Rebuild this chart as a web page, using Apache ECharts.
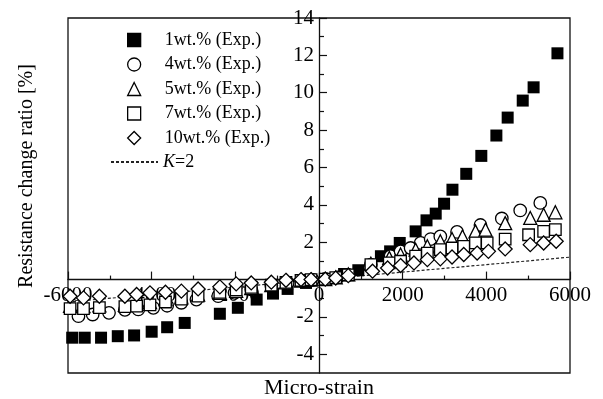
<!DOCTYPE html>
<html><head><meta charset="utf-8">
<script src="https://cdn.jsdelivr.net/npm/echarts@6/dist/echarts.min.js"></script>
<style>html,body{margin:0;padding:0;background:#fff}#c{width:603px;height:399px}</style>
</head><body><div id="c"></div>
<script>
const FONT = "'Liberation Serif','Times New Roman',serif";

// Tick values
const yLabelValues = [-4, -2, 2, 4, 6, 8, 10, 12, 14];
const yMajorTicks = [-4, -2, 0, 2, 4, 6, 8, 10, 12, 14];
const yMinorTicks = [-3, -1, 1, 3, 5, 7, 9, 11, 13];

// 1wt.% (Exp.)
const s1x = [-5900,-5600,-5210,-4810,-4420,-4000,-3630,-3210,-2370,-1940,-1490,-1100,-750,-310,600,940,1480,1700,1930,2310,2570,2790,2990,3190,3520,3880,4240,4510,4870,5130,5700];
const s1y = [-3.11,-3.11,-3.11,-3.03,-2.99,-2.79,-2.55,-2.32,-1.83,-1.51,-1.07,-0.75,-0.50,-0.18,0.30,0.50,1.25,1.51,1.96,2.58,3.17,3.53,4.06,4.81,5.66,6.62,7.71,8.67,9.58,10.29,12.11];
// 4wt.% (Exp.)
const s4x = [-5750,-5410,-5020,-4640,-4320,-3960,-3630,-3290,-2930,-2410,-2020,-1620,-1140,-750,-400,-150,150,450,700,1240,1710,1950,2190,2430,2670,2900,3300,3860,4370,4810,5290];
const s4y = [-1.96,-1.87,-1.78,-1.62,-1.60,-1.51,-1.40,-1.24,-1.07,-0.89,-0.71,-0.53,-0.32,-0.18,-0.08,-0.02,0.03,0.12,0.25,0.80,1.25,1.51,1.69,1.96,2.17,2.31,2.55,2.92,3.27,3.70,4.10];
// 5wt.% (Exp.)
const s5x = [-5950,-5630,-5250,-4640,-4360,-4040,-3670,-3290,-2890,-2370,-1980,-1620,-1140,-790,-430,-190,150,400,700,1240,1680,1950,2310,2590,2900,3180,3430,3740,3980,4450,5050,5370,5650];
const s5y = [-1.40,-1.42,-1.38,-1.35,-1.30,-1.20,-1.05,-0.95,-0.80,-0.71,-0.60,-0.45,-0.30,-0.15,-0.05,0.00,0.03,0.12,0.28,0.85,1.16,1.34,1.60,1.78,2.05,2.17,2.31,2.58,2.67,3.02,3.30,3.47,3.60];
// 7wt.% (Exp.)
const s7x = [-5950,-5630,-5250,-4640,-4360,-4040,-3670,-3290,-2890,-2370,-1980,-1620,-1140,-790,-430,-190,150,400,700,1240,1680,1950,2310,2590,2900,3180,3460,3740,4020,4450,5010,5370,5650];
const s7y = [-1.55,-1.55,-1.50,-1.45,-1.42,-1.35,-1.20,-1.05,-0.89,-0.68,-0.55,-0.42,-0.30,-0.15,-0.05,0.00,0.02,0.10,0.25,0.80,0.89,0.98,1.25,1.42,1.60,1.69,1.78,1.96,1.96,2.17,2.40,2.58,2.67];
// 10wt.% (Exp.)
const s10x = [-5950,-5630,-5250,-4640,-4360,-4040,-3670,-3290,-2890,-2370,-1980,-1620,-1140,-790,-430,-190,150,400,700,1280,1640,1950,2270,2590,2900,3180,3460,3780,4050,4450,5050,5370,5670];
const s10y = [-0.89,-0.98,-0.89,-0.89,-0.80,-0.71,-0.68,-0.62,-0.50,-0.39,-0.23,-0.18,-0.14,-0.04,0.00,0.00,0.02,0.08,0.21,0.45,0.62,0.75,0.89,1.07,1.11,1.21,1.34,1.42,1.51,1.64,1.87,1.96,2.05];
// K=2 reference line
const k2x = [-6000, 6000];
const k2y = [-1.2, 1.2];

const expNames = ['1wt.% (Exp.)','4wt.% (Exp.)','5wt.% (Exp.)','7wt.% (Exp.)','10wt.% (Exp.)'];
const lineName = 'K=2';

function pts(xs, ys) { return xs.map((x, i) => [x, ys[i]]); }

const W = 603, H = 399;
const G = { left: 68, right: 33, top: 18, bottom: 26 };
const openStyle = { color: '#fff', borderColor: '#000', borderWidth: 1.3, opacity: 1 };
const axisColor = '#111';
const txt = { fontFamily: FONT, fontSize: 18, color: '#000', lineHeight: 20 };

const chart = echarts.init(document.getElementById('c'), null, { renderer: 'canvas' });

function buildOption(xOff, yOff) {
  return {
    animation: false,
    grid: { left: G.left, right: G.right, top: G.top, bottom: G.bottom, show: true, borderColor: axisColor, borderWidth: 1.3 },
    xAxis: {
      type: 'value', min: -6000, max: 6000, interval: 2000, position: 'bottom', offset: xOff,
      axisLine: { onZero: false, lineStyle: { color: axisColor, width: 1.3 } },
      axisTick: { inside: true, length: 8, lineStyle: { color: axisColor, width: 1.2 } },
      minorTick: { show: true, splitNumber: 2, length: 4, lineStyle: { color: axisColor, width: 1.2 } },
      splitLine: { show: false },
      axisLabel: { fontFamily: FONT, fontSize: 21, color: '#000', margin: 5, showMinLabel: true, showMaxLabel: true, hideOverlap: false,
        formatter: v => String(v) }
    },
    yAxis: [
      {
        type: 'value', min: -5, max: 14, position: 'left', offset: yOff,
        axisLine: { onZero: false, lineStyle: { color: axisColor, width: 1.3 } },
        axisTick: { inside: true, length: 8, customValues: yMajorTicks, lineStyle: { color: axisColor, width: 1.2 } },
        axisLabel: { customValues: yLabelValues, fontFamily: FONT, fontSize: 21, color: '#000', margin: 5, hideOverlap: false,
          formatter: v => String(v) },
        splitLine: { show: false }
      },
      {
        type: 'value', min: -5, max: 14, position: 'left', offset: yOff,
        axisLine: { show: false, onZero: false },
        axisTick: { inside: true, length: 5, customValues: yMinorTicks, lineStyle: { color: axisColor, width: 1.2 } },
        axisLabel: { show: false },
        splitLine: { show: false }
      }
    ],
    legend: [
      {
        left: 127, top: 30, orient: 'vertical', padding: 0,
        itemWidth: 13, itemHeight: 13, itemGap: 4.5, selectedMode: false,
        data: expNames,
        itemStyle: { borderWidth: 1.3, opacity: 1 },
        formatter: n => '{s|}' + n,
        textStyle: Object.assign({}, txt, { rich: { s: { width: 19, height: 20 } } })
      },
      {
        left: 110, top: 152, orient: 'vertical', padding: 0,
        itemWidth: 47, itemHeight: 13, selectedMode: false,
        data: [lineName],
        itemStyle: { color: 'rgba(0,0,0,0)', borderWidth: 0, opacity: 0 },
        formatter: () => '{i|K}{n|=2}',
        textStyle: Object.assign({}, txt, {
          rich: {
            i: Object.assign({}, txt, { fontStyle: 'italic' }),
            n: Object.assign({}, txt)
          }
        })
      }
    ],
    graphic: [
      { type: 'text', x: 27, y: 176, rotation: Math.PI / 2,
        style: { text: 'Resistance change ratio [%]', font: "20px 'Liberation Serif','Times New Roman',serif", fill: '#000', textAlign: 'center', textVerticalAlign: 'middle' } },
      { type: 'text', x: 319, y: 388,
        style: { text: 'Micro-strain', font: "22px 'Liberation Serif','Times New Roman',serif", fill: '#000', textAlign: 'center', textVerticalAlign: 'middle' } }
    ],
    series: [
      { name: lineName, type: 'line', data: pts(k2x, k2y), symbol: 'none', z: 1,
        itemStyle: { color: '#333' },
        lineStyle: { color: '#222', width: 1.2, type: [3, 2] } },
      { name: expNames[0], type: 'scatter', data: pts(s1x, s1y), symbol: 'rect', symbolSize: 12,
        itemStyle: { color: '#000', borderColor: '#000', borderWidth: 0, opacity: 1 } },
      { name: expNames[1], type: 'scatter', data: pts(s4x, s4y), symbol: 'circle', symbolSize: 12.5, itemStyle: openStyle },
      { name: expNames[2], type: 'scatter', data: pts(s5x, s5y), symbol: 'triangle', symbolSize: 13, itemStyle: openStyle },
      { name: expNames[3], type: 'scatter', data: pts(s7x, s7y), symbol: 'rect', symbolSize: 11.5, itemStyle: openStyle },
      { name: expNames[4], type: 'scatter', data: pts(s10x, s10y), symbol: 'diamond', symbolSize: 14, itemStyle: openStyle }
    ]
  };
}

chart.setOption(buildOption(0, 0));
// Move the axes so they cross at the data origin (0, 0)
const origin = chart.convertToPixel({ gridIndex: 0 }, [0, 0]);
const xOffset = origin[1] - (H - G.bottom);
const yOffset = G.left - origin[0];
chart.setOption(buildOption(xOffset, yOffset), true);
</script>
</body></html>
